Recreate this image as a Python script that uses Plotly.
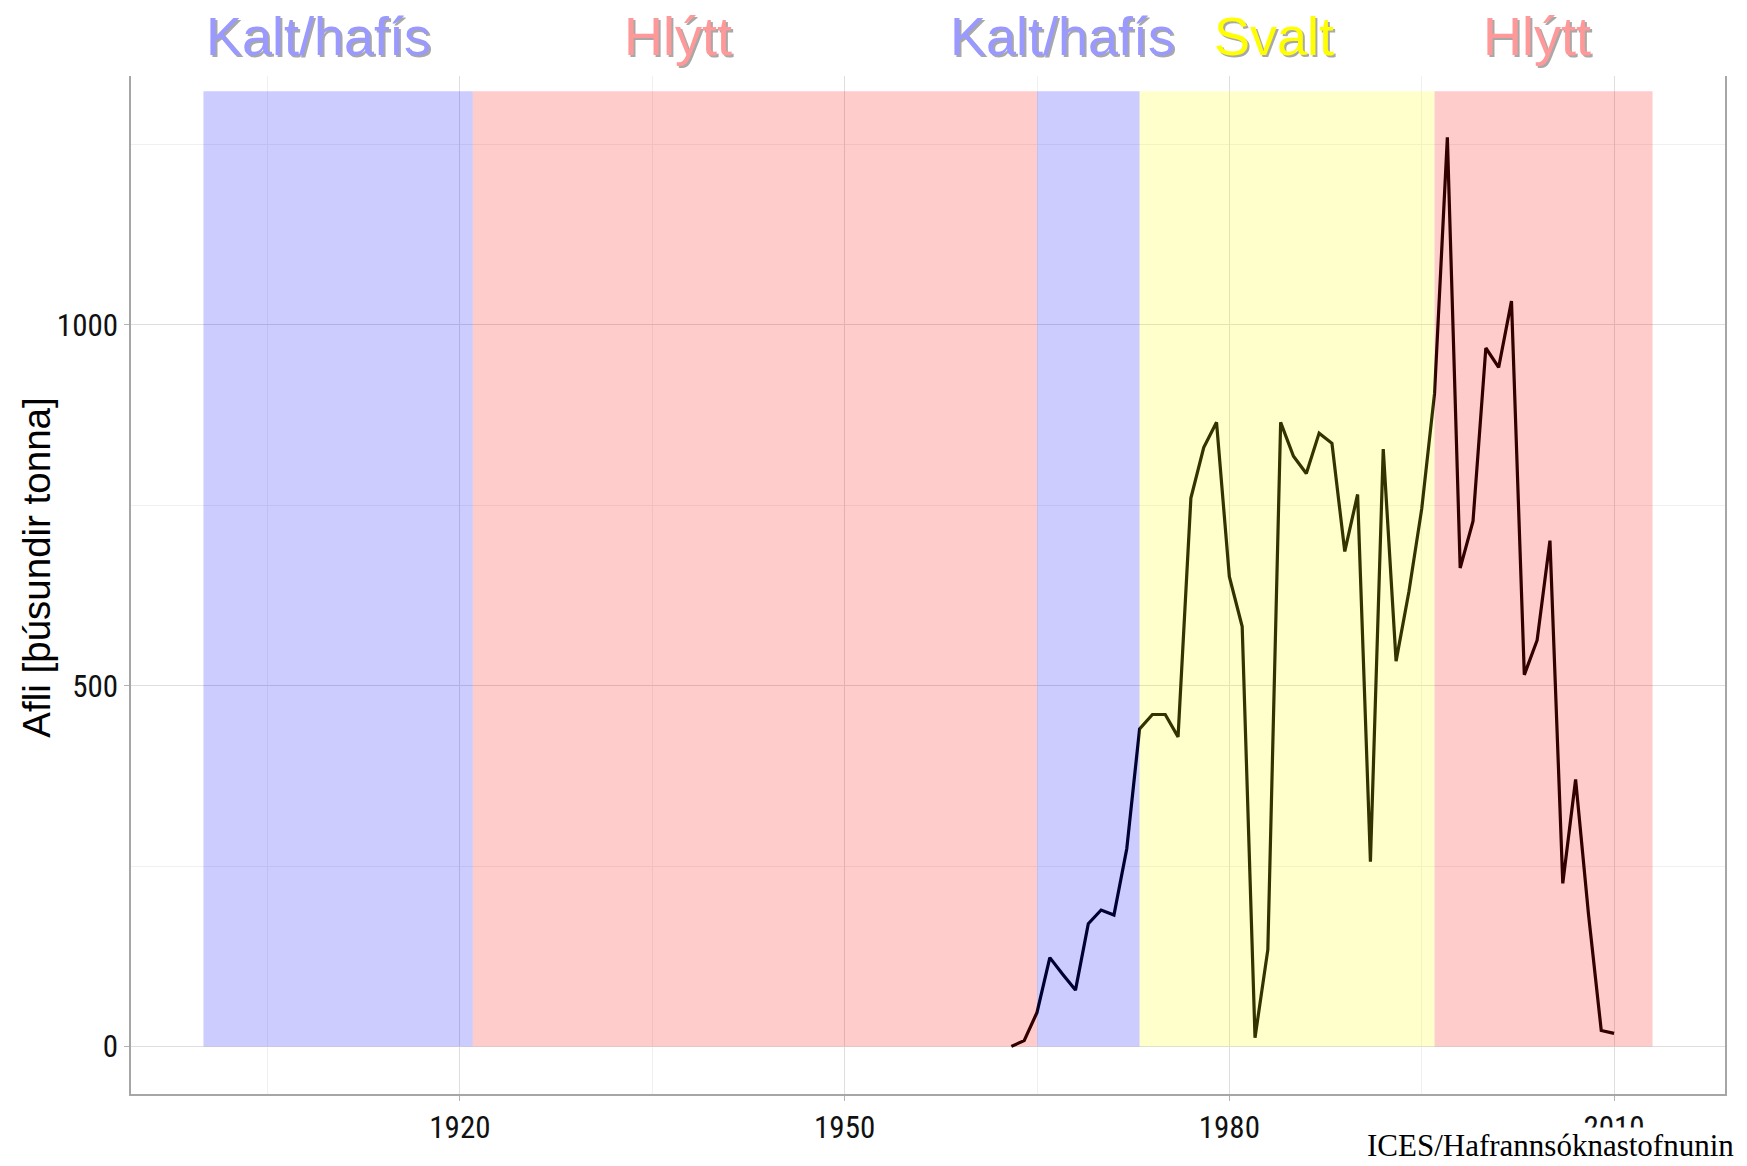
import plotly.graph_objects as go

# afli (þúsundir tonna) eftir árum
years = list(range(1963, 2011))
catch = [0, 8, 47, 123, 100, 78, 170, 189, 182, 274,
         440, 460, 460, 429, 760, 830, 865, 651, 582, 12,
         134, 865, 818, 794, 850, 836, 686, 765, 256, 828,
         534, 630, 745, 905, 1260, 663, 728, 968, 941, 1033,
         515, 563, 701, 226, 370, 184, 22, 18]

# hitafarstímabil
period_start = [1900, 1921, 1965, 1973, 1996]
period_end = [1921, 1965, 1973, 1996, 2013]
period_fill = ["#0000ff", "#ff0000", "#0000ff", "#ffff00", "#ff0000"]
period_top = 1324

label_text = ["Kalt/hafís", "Hlýtt", "Kalt/hafís", "Svalt", "Hlýtt"]
label_year = [1909, 1937, 1967, 1983.5, 2004]
label_color = ["#9999ff", "#ff9999", "#9999ff", "#ffff00", "#ff9999"]

x_ticks = [1920, 1950, 1980, 2010]
x_minor = [1905, 1935, 1965, 1995]
y_ticks = [0, 500, 1000]
y_minor = [250, 750, 1250]

SANS = "Liberation Sans, Arial"
NARROW = "Liberation Sans Narrow, Arial Narrow, Roboto Condensed, Liberation Sans"

fig = go.Figure(go.Scatter(x=years, y=catch, mode="lines",
                           line=dict(color="black", width=3.2), hoverinfo="skip"))

for x0, x1, c in zip(period_start, period_end, period_fill):
    fig.add_shape(type="rect", x0=x0, x1=x1, y0=0, y1=period_top, xref="x", yref="y",
                  fillcolor=c, opacity=0.2, line_width=0, layer="above")

for t, xv, c in zip(label_text, label_year, label_color):
    for col, dx, dy in [("rgba(110,110,110,0.6)", 2, -2), (c, 0, 0)]:
        fig.add_annotation(text=t, x=xv, xref="x", y=1.039, yref="paper", showarrow=False,
                           xanchor="center", yanchor="middle", xshift=dx, yshift=dy,
                           font=dict(family=SANS, size=54, color=col))

fig.add_annotation(text="Afli [þúsundir tonna]", textangle=-90, x=-0.059, xref="paper",
                   y=0.517, yref="paper", showarrow=False, xanchor="center", yanchor="middle",
                   font=dict(family=SANS, size=38.5, color="black"))

fig.add_annotation(text="ICES/Hafrannsóknastofnunin", x=1.0065, xref="paper", y=-0.051,
                   yref="paper", showarrow=False, xanchor="right", yanchor="middle",
                   bgcolor="white", borderpad=0,
                   font=dict(family="Liberation Serif, Times New Roman", size=31, color="black"))

axis_common = dict(showline=True, linecolor="#a6a6a6", linewidth=1.5, ticks="outside",
                   ticklen=5, tickcolor="#b3b3b3", showgrid=True, gridcolor="#dedede",
                   gridwidth=1, zeroline=False,
                   tickfont=dict(family=NARROW, size=31, color="#111111"))

fig.update_xaxes(range=[1894.35, 2018.65], tickvals=x_ticks, mirror=False,
                 minor=dict(tickvals=x_minor, showgrid=True, gridcolor="#f0f0f0", ticks=""),
                 **axis_common)
fig.update_yaxes(range=[-66, 1345], tickvals=y_ticks, mirror=True,
                 minor=dict(tickvals=y_minor, showgrid=True, gridcolor="#f0f0f0", ticks=""),
                 **axis_common)

fig.update_layout(width=1731, height=1150, showlegend=False,
                  plot_bgcolor="white", paper_bgcolor="white",
                  margin=dict(l=123, r=14, t=68, b=64))

fig.write_html("out.html")
